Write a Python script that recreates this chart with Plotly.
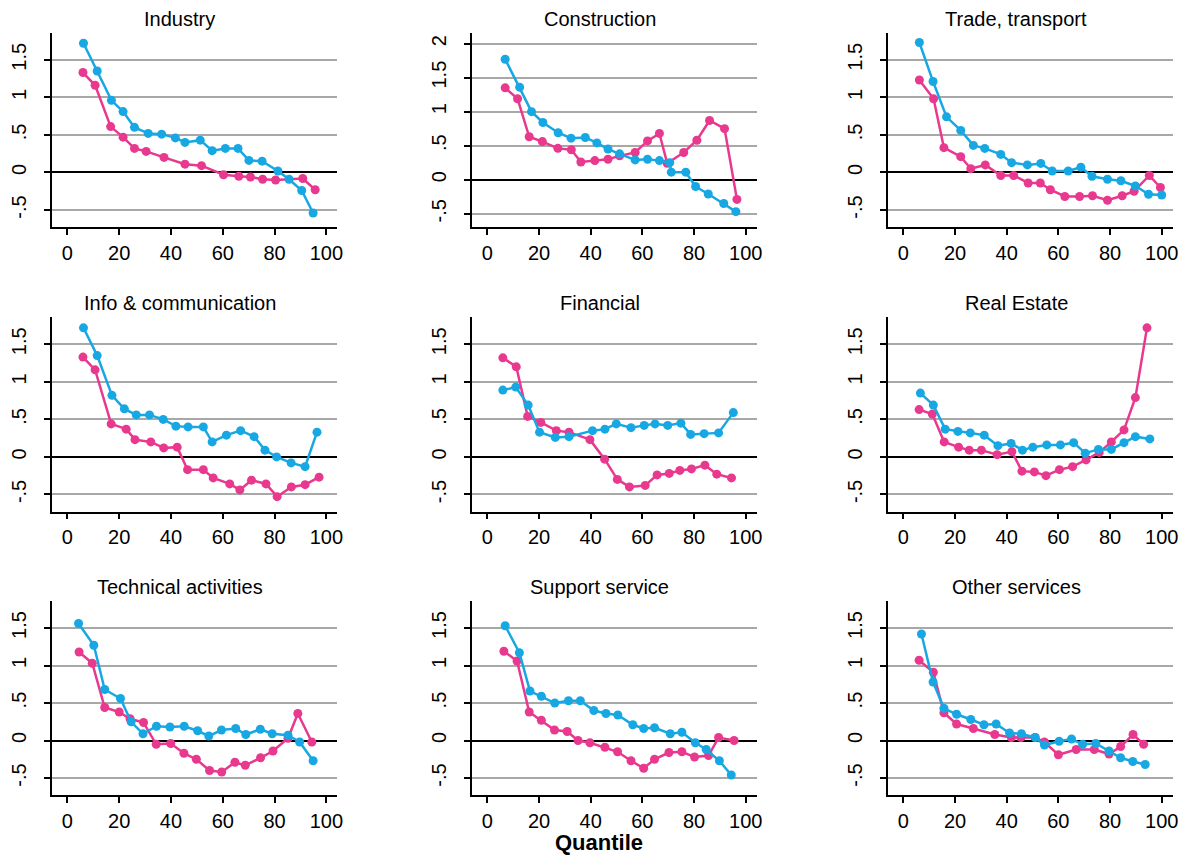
import plotly.graph_objects as go

# The page body has an 8px default margin, so the figure is drawn at (8, 8).
OFF = 8
W, H = 1189 - OFF, 856 - OFF
FONT = "Liberation Sans, Arial, Helvetica, sans-serif"
BLUE = "#17A8E3"
PINK = "#E8398F"

titles = ["Industry", "Construction", "Trade, transport",
          "Info & communication", "Financial", "Real Estate",
          "Technical activities", "Support service", "Other services"]

# ---- Industry
ind_bx = [6.2, 11.5, 17.0, 21.5, 25.9, 31.2, 36.4, 41.7, 45.4, 51.3, 55.9, 61.0, 65.9, 70.1, 75.2, 81.3, 85.6, 90.5, 94.9]
ind_by = [1.72, 1.35, 0.96, 0.81, 0.60, 0.52, 0.51, 0.46, 0.40, 0.43, 0.29, 0.32, 0.32, 0.16, 0.15, 0.02, -0.09, -0.24, -0.54]
ind_px = [6.0, 10.7, 16.7, 21.5, 25.9, 30.4, 37.3, 45.4, 51.8, 60.3, 66.2, 70.7, 75.4, 80.4, 90.9, 95.7]
ind_py = [1.33, 1.16, 0.61, 0.47, 0.32, 0.28, 0.20, 0.11, 0.09, -0.03, -0.05, -0.06, -0.09, -0.10, -0.08, -0.23]

# ---- Construction
con_bx = [6.9, 12.5, 17.1, 21.5, 27.4, 32.4, 37.9, 42.4, 46.7, 51.2, 57.2, 62.0, 66.6, 70.6, 71.2, 76.8, 80.6, 85.5, 91.5, 96.2]
con_by = [1.77, 1.36, 1.00, 0.84, 0.69, 0.61, 0.62, 0.54, 0.45, 0.38, 0.29, 0.30, 0.28, 0.25, 0.11, 0.11, -0.10, -0.21, -0.35, -0.47]
con_px = [6.9, 11.7, 16.2, 21.3, 27.3, 32.5, 36.2, 41.6, 46.7, 51.2, 57.2, 62.0, 66.6, 69.6, 76.0, 81.1, 86.0, 91.8, 96.6]
con_py = [1.35, 1.19, 0.63, 0.56, 0.46, 0.44, 0.26, 0.28, 0.30, 0.35, 0.40, 0.57, 0.68, 0.24, 0.40, 0.58, 0.87, 0.75, -0.29]

# ---- Trade, transport
tra_bx = [6.2, 11.5, 16.7, 22.2, 27.1, 31.5, 37.7, 41.9, 48.0, 53.2, 57.6, 63.8, 68.7, 73.0, 79.0, 84.2, 89.8, 94.9, 100.0]
tra_by = [1.73, 1.21, 0.74, 0.56, 0.36, 0.32, 0.24, 0.13, 0.10, 0.12, 0.02, 0.02, 0.07, -0.05, -0.09, -0.11, -0.18, -0.29, -0.30]
tra_px = [6.2, 11.7, 15.7, 22.2, 26.1, 31.7, 37.7, 42.7, 48.3, 53.0, 56.9, 62.5, 68.2, 73.2, 79.0, 84.7, 89.3, 95.2, 99.5]
tra_py = [1.23, 0.98, 0.33, 0.21, 0.05, 0.10, -0.04, -0.04, -0.14, -0.14, -0.23, -0.32, -0.32, -0.31, -0.37, -0.31, -0.25, -0.04, -0.20]

# ---- Info & communication
inf_bx = [6.2, 11.5, 17.2, 22.0, 26.6, 31.7, 37.0, 41.9, 46.6, 52.5, 55.9, 61.4, 66.9, 72.1, 76.3, 80.8, 86.4, 91.8, 96.4]
inf_by = [1.72, 1.35, 0.82, 0.64, 0.56, 0.56, 0.50, 0.41, 0.40, 0.40, 0.20, 0.29, 0.35, 0.27, 0.09, 0.00, -0.08, -0.13, 0.33]
inf_px = [6.0, 10.7, 16.9, 22.7, 26.1, 32.2, 37.2, 42.4, 46.4, 52.5, 56.3, 62.7, 66.6, 71.1, 76.7, 81.0, 86.5, 91.8, 97.2]
inf_py = [1.33, 1.16, 0.44, 0.37, 0.23, 0.20, 0.12, 0.13, -0.17, -0.17, -0.28, -0.36, -0.44, -0.31, -0.36, -0.53, -0.40, -0.37, -0.27]

# ---- Financial
fin_bx = [6.0, 11.0, 15.8, 20.2, 26.3, 31.6, 40.7, 45.5, 49.9, 55.6, 60.7, 64.9, 69.8, 74.9, 78.7, 83.9, 89.5, 95.2]
fin_by = [0.89, 0.93, 0.69, 0.33, 0.26, 0.27, 0.35, 0.37, 0.44, 0.39, 0.42, 0.44, 0.42, 0.45, 0.30, 0.31, 0.32, 0.59]
fin_px = [6.0, 11.2, 15.6, 20.7, 26.7, 31.6, 39.7, 45.4, 50.3, 55.0, 61.1, 65.7, 70.4, 74.5, 79.0, 84.2, 88.8, 94.5]
fin_py = [1.32, 1.20, 0.54, 0.46, 0.35, 0.33, 0.23, -0.03, -0.30, -0.40, -0.38, -0.24, -0.22, -0.18, -0.16, -0.11, -0.23, -0.28]

# ---- Real Estate
rea_bx = [6.6, 11.6, 16.2, 21.1, 25.9, 31.3, 36.6, 41.7, 46.1, 50.1, 55.5, 60.8, 65.9, 70.4, 75.5, 80.5, 85.4, 89.8, 95.4]
rea_by = [0.85, 0.69, 0.37, 0.34, 0.32, 0.29, 0.15, 0.18, 0.09, 0.13, 0.16, 0.16, 0.19, 0.05, 0.10, 0.10, 0.19, 0.27, 0.24]
rea_px = [6.1, 11.2, 15.8, 21.4, 25.5, 30.2, 36.3, 42.0, 45.9, 50.7, 55.2, 60.4, 65.5, 70.7, 75.8, 80.5, 85.4, 89.8, 94.3]
rea_py = [0.63, 0.57, 0.20, 0.13, 0.09, 0.09, 0.03, 0.07, -0.19, -0.20, -0.25, -0.17, -0.13, -0.04, 0.06, 0.20, 0.36, 0.79, 1.72]

# ---- Technical activities
tec_bx = [4.3, 10.2, 14.4, 20.5, 24.6, 29.2, 34.4, 39.6, 45.1, 50.3, 54.6, 59.5, 65.0, 68.9, 74.5, 79.1, 85.2, 89.7, 94.9]
tec_by = [1.56, 1.27, 0.68, 0.56, 0.25, 0.09, 0.19, 0.18, 0.19, 0.13, 0.06, 0.14, 0.16, 0.08, 0.15, 0.09, 0.07, -0.02, -0.27]
tec_px = [4.5, 9.6, 14.4, 20.0, 24.2, 29.4, 34.3, 39.9, 45.0, 49.8, 54.9, 59.6, 64.7, 68.7, 74.6, 79.4, 85.2, 89.0, 94.4]
tec_py = [1.18, 1.03, 0.44, 0.38, 0.29, 0.24, -0.05, -0.04, -0.17, -0.25, -0.40, -0.42, -0.29, -0.33, -0.23, -0.14, 0.03, 0.36, -0.02]

# ---- Support service
sup_bx = [6.9, 12.4, 16.5, 20.9, 26.1, 31.4, 36.0, 41.2, 45.9, 50.5, 56.3, 60.5, 64.7, 70.8, 75.3, 80.5, 84.7, 89.8, 94.4]
sup_by = [1.53, 1.17, 0.66, 0.59, 0.50, 0.53, 0.53, 0.40, 0.36, 0.34, 0.21, 0.16, 0.17, 0.09, 0.11, -0.03, -0.12, -0.27, -0.46]
sup_px = [6.4, 11.5, 16.2, 20.9, 26.0, 30.9, 35.1, 39.7, 45.5, 50.4, 55.6, 60.5, 64.7, 70.3, 75.3, 80.2, 85.6, 89.5, 95.5]
sup_py = [1.19, 1.06, 0.38, 0.27, 0.14, 0.12, 0.00, -0.03, -0.09, -0.15, -0.27, -0.37, -0.25, -0.16, -0.15, -0.22, -0.20, 0.04, 0.00]

# ---- Other services
oth_bx = [7.0, 11.5, 15.7, 20.6, 26.1, 31.2, 35.9, 41.1, 45.7, 51.0, 54.6, 60.3, 65.1, 69.4, 74.5, 79.6, 84.1, 88.8, 93.6]
oth_by = [1.42, 0.78, 0.43, 0.35, 0.28, 0.21, 0.22, 0.10, 0.09, 0.04, -0.06, -0.01, 0.02, -0.05, -0.04, -0.14, -0.23, -0.28, -0.32]
oth_px = [6.1, 11.6, 15.7, 20.6, 27.1, 35.4, 41.8, 45.5, 51.0, 54.6, 60.0, 66.9, 73.9, 79.6, 84.1, 88.9, 93.0]
oth_py = [1.07, 0.91, 0.37, 0.22, 0.16, 0.08, 0.04, 0.04, 0.04, -0.02, -0.19, -0.12, -0.12, -0.18, -0.08, 0.08, -0.05]

panels = [
    (ind_bx, ind_by, ind_px, ind_py),
    (con_bx, con_by, con_px, con_py),
    (tra_bx, tra_by, tra_px, tra_py),
    (inf_bx, inf_by, inf_px, inf_py),
    (fin_bx, fin_by, fin_px, fin_py),
    (rea_bx, rea_by, rea_px, rea_py),
    (tec_bx, tec_by, tec_px, tec_py),
    (sup_bx, sup_by, sup_px, sup_py),
    (oth_bx, oth_by, oth_px, oth_py),
]

x_ticks = [0, 20, 40, 60, 80, 100]
y_ticks = [-0.5, 0, 0.5, 1, 1.5]
y_ticktext = ["-.5", "0", ".5", "1", "1.5"]
y_ticks_con = [-0.5, 0, 0.5, 1, 1.5, 2]
y_ticktext_con = ["-.5", "0", ".5", "1", "1.5", "2"]

# layout geometry in screen pixels (converted to figure coords below)
col_px = [(43.3, 332.3), (468.3, 756.7), (889.3, 1177.7)]
row_px = [(32.7, 227.3), (317.3, 511.7), (601.0, 795.3)]
title_x = [172.5, 597.5, 1019.0]
title_y = [19.0, 303.0, 586.5]


def fx(p):
    return (p - OFF) / W


def fy(p):
    return 1 - (p - OFF) / H


fig = go.Figure()
layout = dict(
    width=W, height=H,
    margin=dict(l=0, r=0, t=0, b=0),
    paper_bgcolor="white", plot_bgcolor="white",
    showlegend=False,
    font=dict(family=FONT, color="black"),
)
annotations = []

for i, (bx, by, px, py) in enumerate(panels):
    r, c = divmod(i, 3)
    k = "" if i == 0 else str(i + 1)
    xa, ya = "x" + k, "y" + k
    fig.add_trace(go.Scatter(x=px, y=py, mode="lines+markers", xaxis=xa, yaxis=ya,
                             line=dict(color=PINK, width=2.5),
                             marker=dict(color=PINK, size=9)))
    fig.add_trace(go.Scatter(x=bx, y=by, mode="lines+markers", xaxis=xa, yaxis=ya,
                             line=dict(color=BLUE, width=2.5),
                             marker=dict(color=BLUE, size=9)))
    x0, x1 = col_px[c]
    y0, y1 = row_px[r]
    is_con = (i == 1)
    layout["xaxis" + k] = dict(
        domain=[fx(x0), fx(x1)], anchor=ya,
        range=[-6, 104.3], tickvals=x_ticks, ticks="outside", ticklen=6,
        tickwidth=1.5, tickcolor="black", showline=True, linecolor="black",
        linewidth=1.5, showgrid=False, zeroline=False, ticklabelstandoff=1,
        tickfont=dict(size=20, family=FONT, color="black"),
    )
    layout["yaxis" + k] = dict(
        domain=[fy(y1), fy(y0)], anchor=xa,
        range=[-0.70, 2.16] if is_con else [-0.73, 1.86],
        tickvals=y_ticks_con if is_con else y_ticks,
        ticktext=y_ticktext_con if is_con else y_ticktext,
        tickangle=-90, ticks="outside", ticklen=6, tickwidth=1.5, tickcolor="black",
        showline=True, linecolor="black", linewidth=1.5, ticklabelstandoff=10,
        showgrid=True, gridcolor="#A8A8A8", gridwidth=1.5,
        zeroline=True, zerolinecolor="black", zerolinewidth=1.5,
        tickfont=dict(size=20, family=FONT, color="black"),
    )
    annotations.append(dict(
        text=titles[i], x=fx(title_x[c]), y=fy(title_y[r]),
        xref="paper", yref="paper", xanchor="center", yanchor="middle",
        showarrow=False, font=dict(size=20, family=FONT, color="black"),
    ))

annotations.append(dict(
    text="<b>Quantile</b>", x=fx(597), y=fy(842), xref="paper", yref="paper",
    xanchor="center", yanchor="middle", showarrow=False,
    font=dict(size=22, family=FONT, color="black"),
))
layout["annotations"] = annotations
fig.update_layout(**layout)
fig.write_html("out.html")
